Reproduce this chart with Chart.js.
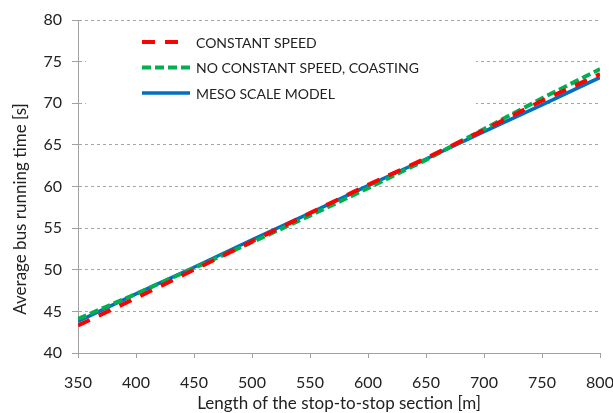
<!DOCTYPE html>
<html>
<head>
<meta charset="utf-8">
<script src="https://cdn.jsdelivr.net/npm/chart.js@4/dist/chart.umd.min.js"></script>
<style>
  html, body { margin: 0; padding: 0; background: #fff; }
  #wrap { width: 613px; height: 413px; }
</style>
</head>
<body>
<div id="wrap"><canvas id="myChart" width="613" height="413"></canvas></div>
<script>
// section length [m]
var lengths = [350, 400, 450, 500, 550, 600, 650, 700, 750, 800];

// average bus running time [s]
var constantSpeed = [43.3, 46.6, 50.0, 53.4, 56.8, 60.2, 63.4, 66.8, 70.3, 73.5];
var coasting      = [44.1, 47.1, 50.2, 53.3, 56.5, 59.8, 63.2, 66.9, 70.6, 74.1];
var mesoModel     = [43.8, 47.1, 50.3, 53.6, 56.8, 60.1, 63.3, 66.6, 69.8, 73.1];

var seriesNames = ['CONSTANT SPEED', 'NO CONSTANT SPEED, COASTING', 'MESO SCALE MODEL'];
var xTitle = 'Length of the stop-to-stop section [m]';
var yTitle = 'Average bus running time [s]';

function toPoints(values) {
    return lengths.map(function(len, i) {
        return {x: len, y: values[i]};
    });
}

var fontName = 'Lato, "Open Sans", sans-serif';

// legend drawn inside the plot, top left, on a white box that hides the grid
var boxLegend = {
    id: 'boxLegend',
    beforeDatasetsDraw: function(chart) {
        var ctx = chart.ctx;
        var area = chart.chartArea;
        ctx.save();
        ctx.fillStyle = '#ffffff';
        // grid lines run past the plot's right edge, trim them
        ctx.fillRect(area.right + 1, 0, chart.width - area.right, area.bottom + 1);
        ctx.fillRect(86, 26, 390, 92);
        ctx.font = '14px ' + fontName;
        ctx.textBaseline = 'middle';
        chart.data.datasets.forEach(function(ds, i) {
            var y = 42 + i * 25.5;
            ctx.beginPath();
            ctx.setLineDash(ds.borderDash || []);
            ctx.lineWidth = ds.borderWidth;
            ctx.strokeStyle = ds.borderColor;
            ctx.moveTo(142, y);
            ctx.lineTo(i == 0 ? 180 : 190, y);
            ctx.stroke();
            ctx.setLineDash([]);
            ctx.fillStyle = '#222';
            ctx.fillText(ds.label, 196, y + 1);
        });
        ctx.restore();
    }
};

// axis titles (the y one sits a bit lower than the plot centre, like the original)
var axisTitles = {
    id: 'axisTitles',
    afterDraw: function(chart) {
        var ctx = chart.ctx;
        var area = chart.chartArea;
        ctx.save();
        ctx.fillStyle = '#222';
        ctx.font = '17px ' + fontName;
        ctx.textAlign = 'center';
        ctx.textBaseline = 'middle';
        ctx.fillText(xTitle, (area.left + area.right) / 2, 404);
        ctx.translate(21, 209);
        ctx.rotate(-Math.PI / 2);
        ctx.fillText(yTitle, 0, 0);
        ctx.restore();
    }
};

var config = {
    type: 'line',
    data: {
        datasets: [{
            label: seriesNames[0],
            data: toPoints(constantSpeed),
            borderColor: '#ff0000',
            borderWidth: 4,
            borderDash: [13, 10]
        }, {
            label: seriesNames[1],
            data: toPoints(coasting),
            borderColor: '#00b050',
            borderWidth: 4,
            borderDash: [9, 4]
        }, {
            label: seriesNames[2],
            data: toPoints(mesoModel),
            borderColor: '#0070c0',
            borderWidth: 3.5
        }]
    },
    options: {
        responsive: false,
        animation: false,
        layout: {
            padding: {left: 0, right: 13, top: 20, bottom: 0}
        },
        elements: {
            point: {radius: 0},
            line: {tension: 0, borderCapStyle: 'butt'}
        },
        plugins: {
            legend: {display: false},
            tooltip: {enabled: false}
        },
        scales: {
            x: {
                type: 'linear',
                min: 350,
                max: 800,
                ticks: {
                    stepSize: 50,
                    color: '#222',
                    padding: 15,
                    maxRotation: 0,
                    font: {family: fontName, size: 16}
                },
                grid: {
                    drawOnChartArea: false,
                    drawTicks: true,
                    tickLength: 5,
                    tickColor: '#a0a0a0'
                },
                border: {color: '#a0a0a0', width: 1},
                afterFit: function(scale) {
                    scale.height = 60;
                    scale.paddingLeft = 0;
                    scale.paddingRight = 0;
                }
            },
            y: {
                min: 40,
                max: 80,
                ticks: {
                    stepSize: 5,
                    color: '#222',
                    padding: 10,
                    font: {family: fontName, size: 16}
                },
                grid: {
                    color: '#a6a6a6',
                    drawTicks: true,
                    tickLength: 6,
                    tickColor: '#a0a0a0'
                },
                border: {color: '#a0a0a0', width: 1, dash: [3, 3]},
                afterFit: function(scale) {
                    scale.width = 78;
                    scale.paddingTop = 0;
                    scale.paddingBottom = 0;
                }
            }
        }
    },
    plugins: [boxLegend, axisTitles]
};

window.onload = function() {
    var ctx = document.getElementById('myChart').getContext('2d');
    window.myLine = new Chart(ctx, config);
};
</script>
</body>
</html>
